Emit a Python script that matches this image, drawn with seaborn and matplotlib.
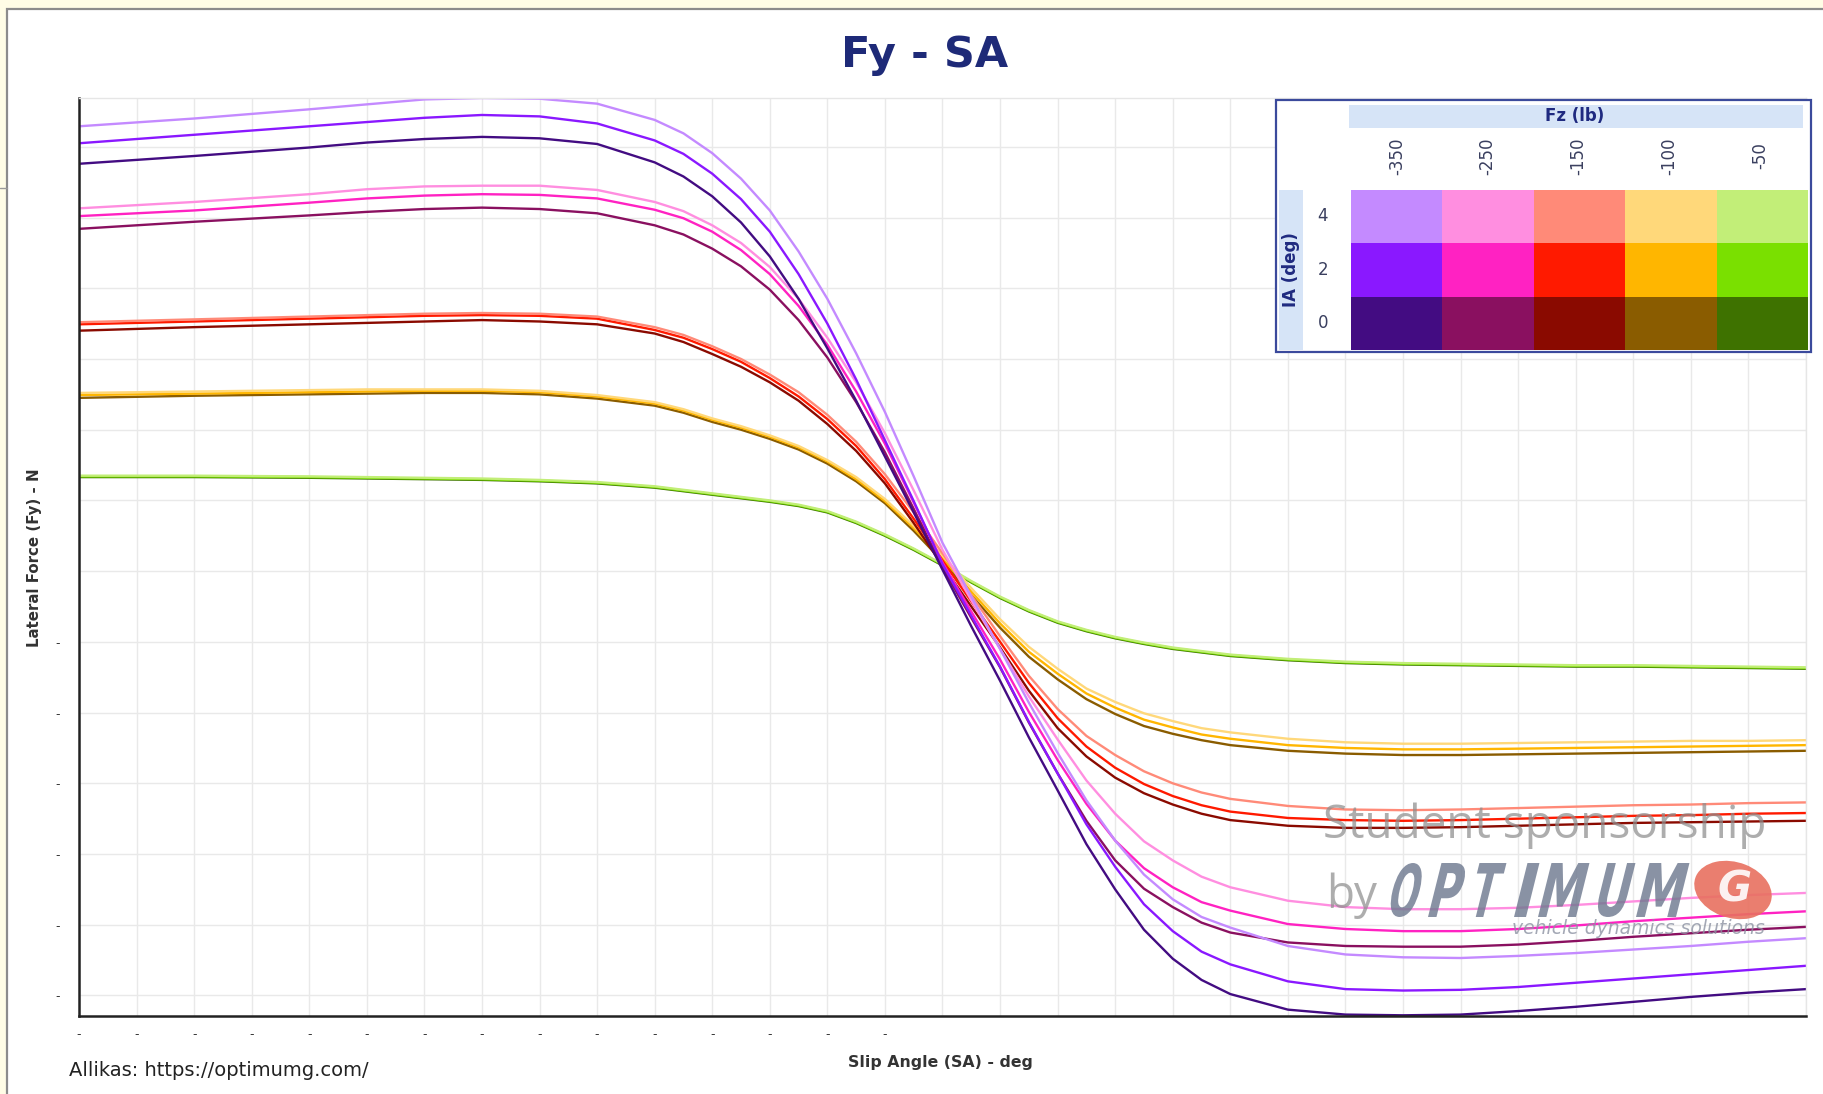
import numpy as np
import pandas as pd
import matplotlib
matplotlib.use("Agg")
import matplotlib.pyplot as plt
import seaborn as sns
from matplotlib.patches import Rectangle, Ellipse, PathPatch
from matplotlib.lines import Line2D
from matplotlib.colors import ListedColormap
from matplotlib.textpath import TextPath
from matplotlib.font_manager import FontProperties
from matplotlib.transforms import Affine2D, IdentityTransform

# ---------------- data ----------------
SA = [-15, -13, -11, -10, -9, -8, -7, -6, -5, -4.5, -4, -3.5, -3, -2.5, -2, -1.5, -1, -0.5, 0,
      0.5, 1, 1.5, 2, 2.5, 3, 3.5, 4, 4.5, 5, 6, 7, 8, 9, 10, 11, 12, 13, 14, 15]

FZ_LABELS = ["-350", "-250", "-150", "-100", "-50"]
IA_LABELS = ["4", "2", "0"]

# Fz -350 lb
fy_350_ia4 = [6.29, 6.40, 6.53, 6.60, 6.67, 6.69, 6.68, 6.61, 6.38, 6.19, 5.91, 5.55, 5.10, 4.52, 3.85, 3.08, 2.25, 1.34, 0.40,
              -0.36, -1.10, -1.86, -2.57, -3.24, -3.81, -4.29, -4.64, -4.89, -5.04, -5.30, -5.42, -5.46, -5.47, -5.44, -5.40, -5.35, -5.30, -5.24, -5.19]
fy_350_ia2 = [6.05, 6.17, 6.29, 6.35, 6.41, 6.45, 6.43, 6.33, 6.09, 5.90, 5.62, 5.26, 4.80, 4.20, 3.50, 2.71, 1.85, 0.99, 0.10,
              -0.63, -1.35, -2.13, -2.86, -3.58, -4.18, -4.71, -5.09, -5.38, -5.56, -5.80, -5.91, -5.93, -5.92, -5.88, -5.82, -5.76, -5.70, -5.64, -5.58]
fy_350_ia0 = [5.76, 5.87, 5.99, 6.06, 6.11, 6.14, 6.12, 6.04, 5.78, 5.58, 5.30, 4.93, 4.45, 3.85, 3.15, 2.41, 1.62, 0.83, 0.02,
              -0.78, -1.55, -2.35, -3.10, -3.86, -4.50, -5.07, -5.48, -5.78, -5.98, -6.20, -6.27, -6.28, -6.27, -6.22, -6.16, -6.09, -6.02, -5.96, -5.91]
# Fz -250 lb
fy_250_ia4 = [5.13, 5.22, 5.33, 5.40, 5.44, 5.45, 5.45, 5.39, 5.22, 5.09, 4.89, 4.64, 4.30, 3.85, 3.30, 2.67, 1.95, 1.14, 0.30,
              -0.41, -1.10, -1.77, -2.38, -2.96, -3.43, -3.82, -4.09, -4.32, -4.47, -4.66, -4.75, -4.78, -4.78, -4.76, -4.72, -4.67, -4.62, -4.58, -4.55]
fy_250_ia2 = [5.02, 5.10, 5.21, 5.27, 5.31, 5.33, 5.32, 5.27, 5.11, 4.99, 4.80, 4.54, 4.20, 3.75, 3.20, 2.54, 1.80, 0.97, 0.12,
              -0.57, -1.25, -1.99, -2.67, -3.29, -3.81, -4.20, -4.47, -4.68, -4.80, -4.99, -5.06, -5.09, -5.09, -5.06, -5.01, -4.95, -4.90, -4.85, -4.81]
fy_250_ia0 = [4.84, 4.94, 5.03, 5.08, 5.12, 5.14, 5.12, 5.06, 4.89, 4.76, 4.56, 4.31, 3.98, 3.55, 3.02, 2.39, 1.68, 0.88, 0.05,
              -0.66, -1.36, -2.14, -2.86, -3.53, -4.09, -4.49, -4.75, -4.97, -5.11, -5.25, -5.30, -5.31, -5.31, -5.28, -5.23, -5.17, -5.12, -5.07, -5.03]
# Fz -150 lb
fy_150_ia4 = [3.52, 3.56, 3.60, 3.62, 3.64, 3.65, 3.64, 3.60, 3.45, 3.34, 3.18, 3.00, 2.78, 2.53, 2.21, 1.83, 1.37, 0.83, 0.25,
              -0.34, -0.92, -1.48, -1.95, -2.33, -2.60, -2.83, -3.00, -3.13, -3.22, -3.32, -3.37, -3.38, -3.37, -3.35, -3.33, -3.31, -3.30, -3.28, -3.27]
fy_150_ia2 = [3.49, 3.53, 3.57, 3.59, 3.61, 3.62, 3.61, 3.57, 3.41, 3.30, 3.14, 2.96, 2.73, 2.47, 2.15, 1.77, 1.30, 0.74, 0.15,
              -0.43, -1.00, -1.58, -2.08, -2.48, -2.78, -3.01, -3.18, -3.31, -3.40, -3.49, -3.52, -3.53, -3.52, -3.50, -3.48, -3.46, -3.45, -3.43, -3.42]
fy_150_ia0 = [3.40, 3.45, 3.49, 3.51, 3.53, 3.55, 3.53, 3.49, 3.36, 3.24, 3.07, 2.89, 2.67, 2.41, 2.08, 1.70, 1.24, 0.68, 0.08,
              -0.50, -1.08, -1.69, -2.22, -2.62, -2.92, -3.14, -3.30, -3.43, -3.52, -3.60, -3.63, -3.63, -3.62, -3.60, -3.58, -3.56, -3.55, -3.54, -3.53]
# Fz -100 lb
fy_100_ia4 = [2.52, 2.54, 2.56, 2.57, 2.57, 2.57, 2.55, 2.49, 2.39, 2.29, 2.16, 2.05, 1.92, 1.77, 1.57, 1.33, 1.02, 0.64, 0.22,
              -0.24, -0.68, -1.07, -1.38, -1.66, -1.85, -2.01, -2.12, -2.22, -2.28, -2.37, -2.42, -2.44, -2.44, -2.43, -2.42, -2.41, -2.40, -2.40, -2.39]
fy_100_ia2 = [2.49, 2.51, 2.53, 2.54, 2.55, 2.55, 2.53, 2.47, 2.37, 2.27, 2.14, 2.03, 1.90, 1.75, 1.55, 1.30, 0.99, 0.61, 0.18,
              -0.29, -0.74, -1.14, -1.45, -1.73, -1.93, -2.10, -2.21, -2.31, -2.37, -2.46, -2.50, -2.52, -2.52, -2.51, -2.50, -2.49, -2.48, -2.47, -2.46]
fy_100_ia0 = [2.45, 2.48, 2.50, 2.51, 2.52, 2.52, 2.50, 2.44, 2.34, 2.24, 2.11, 2.00, 1.87, 1.72, 1.52, 1.27, 0.96, 0.57, 0.14,
              -0.34, -0.80, -1.21, -1.53, -1.81, -2.02, -2.19, -2.30, -2.39, -2.46, -2.54, -2.58, -2.60, -2.60, -2.59, -2.58, -2.57, -2.56, -2.55, -2.54]
# Fz -50 lb
fy_50_ia4 = [1.35, 1.35, 1.34, 1.33, 1.32, 1.31, 1.29, 1.26, 1.20, 1.15, 1.10, 1.05, 1.00, 0.94, 0.85, 0.70, 0.52, 0.32, 0.10,
             -0.14, -0.36, -0.55, -0.71, -0.83, -0.93, -1.01, -1.08, -1.13, -1.18, -1.24, -1.28, -1.30, -1.31, -1.32, -1.33, -1.33, -1.34, -1.35, -1.36]
fy_50_ia2 = [1.34, 1.34, 1.33, 1.32, 1.31, 1.30, 1.28, 1.25, 1.19, 1.14, 1.09, 1.04, 0.99, 0.93, 0.84, 0.69, 0.51, 0.31, 0.09,
             -0.15, -0.37, -0.56, -0.72, -0.84, -0.94, -1.02, -1.09, -1.14, -1.19, -1.25, -1.29, -1.31, -1.32, -1.33, -1.34, -1.34, -1.35, -1.36, -1.37]
fy_50_ia0 = [1.33, 1.33, 1.32, 1.31, 1.30, 1.29, 1.27, 1.24, 1.18, 1.13, 1.08, 1.03, 0.98, 0.92, 0.83, 0.68, 0.50, 0.30, 0.08,
             -0.16, -0.38, -0.57, -0.73, -0.85, -0.95, -1.03, -1.10, -1.15, -1.20, -1.26, -1.30, -1.32, -1.33, -1.34, -1.35, -1.35, -1.36, -1.37, -1.38]

# colours: rows IA 4, 2, 0 ; columns Fz -350 ... -50
COLORS = [
    ["#C48AFF", "#FF8EE0", "#FF8A78", "#FFD87A", "#C2EE78"],
    ["#8A18FF", "#FF22C2", "#FF1A00", "#FFB600", "#7AE000"],
    ["#430C82", "#8A1060", "#8A0A00", "#8A5C00", "#3E7200"],
]

SERIES = {
    ("-50", "0"): fy_50_ia0, ("-50", "2"): fy_50_ia2, ("-50", "4"): fy_50_ia4,
    ("-100", "0"): fy_100_ia0, ("-100", "2"): fy_100_ia2, ("-100", "4"): fy_100_ia4,
    ("-150", "0"): fy_150_ia0, ("-150", "2"): fy_150_ia2, ("-150", "4"): fy_150_ia4,
    ("-250", "0"): fy_250_ia0, ("-250", "2"): fy_250_ia2, ("-250", "4"): fy_250_ia4,
    ("-350", "0"): fy_350_ia0, ("-350", "2"): fy_350_ia2, ("-350", "4"): fy_350_ia4,
}

rows = []
order = []
palette = {}
for (fz, ia), vals in SERIES.items():
    name = f"Fz {fz} / IA {ia}"
    order.append(name)
    palette[name] = COLORS[IA_LABELS.index(ia)][FZ_LABELS.index(fz)]
    for s, v in zip(SA, vals):
        rows.append((name, s, v))
df = pd.DataFrame(rows, columns=["series", "SA", "Fy"])

# ---------------- figure ----------------
sns.set_style("white")
plt.rcParams["font.family"] = ["DejaVu Sans"]

W, H = 1824, 1094
fig = plt.figure(figsize=(W / 100, H / 100), dpi=100)
fig.patch.set_facecolor("#FFFDE6")

def fx(px):
    return px / W

def fy(py):
    return 1 - py / H

# white panel
panel = Rectangle((fx(7), -0.02), 1.05, fy(9) + 0.02, transform=fig.transFigure,
                  facecolor="white", edgecolor="#8C8C8C", lw=1.6, zorder=-10)
fig.add_artist(panel)
fig.add_artist(Line2D([0, fx(7)], [fy(188), fy(188)], transform=fig.transFigure,
                      color="#9A9A9A", lw=1.0, zorder=-9))

ax = fig.add_axes([fx(79), fy(1016), fx(1806) - fx(79), fy(98) - fy(1016)])
ax.set_facecolor("none")

sns.lineplot(data=df, x="SA", y="Fy", hue="series", hue_order=order, palette=palette,
             estimator=None, sort=False, lw=1.7, legend=False, ax=ax)

ax.set_xlim(-15, 15)
ax.set_ylim(-6.29, 6.69)
xt = list(range(-15, 16))
yt = list(range(-6, 7))
ax.set_xticks(xt)
ax.set_xticklabels(["-" if v < 0 else "" for v in xt], fontsize=9, color="#333333")
ax.set_yticks(yt)
ax.set_yticklabels(["-" if v < 0 else "" for v in yt], fontsize=9, color="#333333")
ax.tick_params(axis="x", direction="inout", length=12, width=1.3, color="#333333", pad=3)
ax.tick_params(axis="y", direction="inout", length=12, width=1.3, color="#333333", pad=8)
ax.grid(True, color="#E9E9E9", lw=1.0)
ax.set_axisbelow(True)
for side in ["left", "bottom"]:
    ax.spines[side].set_color("#222222")
    ax.spines[side].set_linewidth(1.8)
for side in ["top", "right"]:
    ax.spines[side].set_color("#E6E6E6")
    ax.spines[side].set_linewidth(1.0)
ax.set_xlabel("")
ax.set_ylabel("")

# titles / labels
fig.text(fx(925), fy(55), "Fy - SA", ha="center", va="center", fontsize=31,
         fontweight="bold", color="#1E2A78")
fig.text(fx(940), fy(1062), "Slip Angle (SA) - deg", ha="center", va="center",
         fontsize=11.3, fontweight="bold", color="#333333")
fig.text(fx(35), fy(558), "Lateral Force (Fy) - N", ha="center", va="center",
         rotation=90, fontsize=10.8, fontweight="bold", color="#333333")
fig.text(fx(69), fy(1071), "Allikas: https://optimumg.com/", ha="left", va="center",
         fontsize=14, color="#222222")

# ---------------- legend block ----------------
NAVY = "#1F2A80"
LBLUE = "#D6E4F7"
fig.add_artist(Rectangle((fx(1276), fy(352)), fx(535), 252 / H, transform=fig.transFigure,
                         facecolor="white", edgecolor="#3B4A9C", lw=1.6, zorder=5))
fig.add_artist(Rectangle((fx(1349), fy(128)), fx(454), 23 / H, transform=fig.transFigure,
                         facecolor=LBLUE, edgecolor="none", zorder=6))
fig.add_artist(Rectangle((fx(1279), fy(350)), fx(24), 160 / H, transform=fig.transFigure,
                         facecolor=LBLUE, edgecolor="none", zorder=6))
fig.text(fx(1575), fy(116), "Fz (lb)", ha="center", va="center", fontsize=12,
         fontweight="bold", color=NAVY, zorder=7)
fig.text(fx(1291), fy(270), "IA (deg)", ha="center", va="center", rotation=90,
         fontsize=12, fontweight="bold", color=NAVY, zorder=7)
col_x = [1397, 1487, 1578, 1669, 1760]
for cx, lab in zip(col_x, FZ_LABELS):
    fig.text(fx(cx), fy(156), lab, ha="center", va="center", rotation=90,
             fontsize=12, color="#3A3F5F", zorder=7)
row_y = [216, 270, 323]
for ry, lab in zip(row_y, IA_LABELS):
    fig.text(fx(1323), fy(ry), lab, ha="center", va="center",
             fontsize=12, color="#3A3F5F", zorder=7)

lax = fig.add_axes([fx(1351), fy(350), fx(457), 160 / H])
lax.set_zorder(6)
codes = np.arange(15).reshape(3, 5)
flat_colors = [c for row in COLORS for c in row]
sns.heatmap(codes, cmap=ListedColormap(flat_colors), vmin=-0.5, vmax=14.5, cbar=False,
            xticklabels=False, yticklabels=False, ax=lax, linewidths=0)
lax.set_xlabel("")
lax.set_ylabel("")

# ---------------- watermark ----------------
WM = "#8E8E8E"
WM_FONT = ["Open Sans", "DejaVu Sans"]
fig.text(fx(1323), fy(826), "Student sponsorship", ha="left", va="center",
         fontsize=33, color=WM, alpha=0.72, family=WM_FONT, zorder=8)
fig.text(fx(1326), fy(896), "by", ha="left", va="center",
         fontsize=33, color=WM, alpha=0.72, family=WM_FONT, zorder=8)

logo_prop = FontProperties(family="DejaVu Sans", weight="bold")
letters = [("O", 1386, 27), ("P", 1428, 27), ("T", 1466, 27), ("I", 1514, 12),
           ("M", 1538, 38), ("U", 1594, 28), ("M", 1636, 40)]
for ch, x0, w in letters:
    tp = TextPath((0, 0), ch, size=100, prop=logo_prop)
    bb = tp.get_extents()
    tr = (Affine2D().translate(-bb.x0, -bb.y0)
          .scale(w / bb.width, 54 / bb.height)
          .skew_deg(14, 0)
          .translate(x0, H - 917))
    fig.add_artist(PathPatch(tr.transform_path(tp), transform=IdentityTransform(),
                             facecolor="#6F7A90", edgecolor="none", alpha=0.82, zorder=8))

fig.add_artist(Ellipse((fx(1733), fy(890)), fx(74), 60 / H, angle=20, transform=fig.transFigure,
                       facecolor="#E8705F", edgecolor="none", alpha=0.9, zorder=8))
fig.text(fx(1735), fy(889), "G", ha="center", va="center", fontsize=30, fontweight="bold",
         style="italic", color="white", alpha=0.9, zorder=9)
fig.text(fx(1512), fy(928), "vehicle dynamics solutions", ha="left", va="center",
         fontsize=13.5, style="italic", color="#8D93A3", alpha=0.8, zorder=8)

fig.savefig("out.png", dpi=100, facecolor=fig.get_facecolor())
